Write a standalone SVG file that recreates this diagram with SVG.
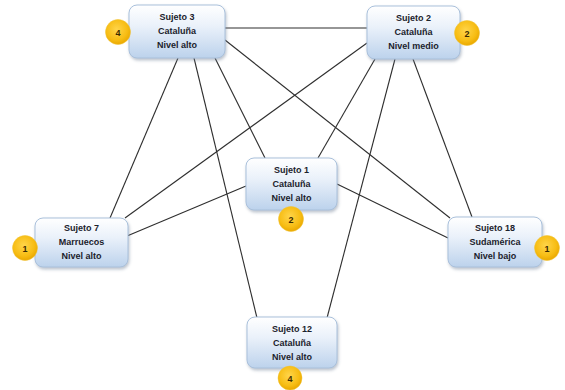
<svg xmlns="http://www.w3.org/2000/svg" width="565" height="390" viewBox="0 0 565 390">
<defs>
<linearGradient id="boxg" x1="0" y1="0" x2="0" y2="1">
<stop offset="0" stop-color="#ffffff"/>
<stop offset="0.4" stop-color="#eaf1fa"/>
<stop offset="1" stop-color="#bcd2ec"/>
</linearGradient>
<radialGradient id="badge" cx="0.45" cy="0.4" r="0.6">
<stop offset="0" stop-color="#ffd54a"/>
<stop offset="0.7" stop-color="#f7bd14"/>
<stop offset="1" stop-color="#eaa800"/>
</radialGradient>
<filter id="sh" x="-20%" y="-20%" width="140%" height="150%">
<feDropShadow dx="1" dy="2" stdDeviation="1.5" flood-color="#6b7d93" flood-opacity="0.45"/>
</filter>
</defs>
<style>
.box{fill:url(#boxg);stroke:#a9c0db;stroke-width:1;filter:url(#sh)}
.t{font-family:"Liberation Sans",Arial,sans-serif;font-size:9px;font-weight:bold;fill:#1b222c;text-anchor:middle}
.b{fill:url(#badge);stroke:#f0c330;stroke-width:0.5}
.bn{font-family:"Liberation Sans",Arial,sans-serif;font-size:9px;font-weight:bold;fill:#3a2a00;text-anchor:middle}
.c line{stroke:#2e2e2e;stroke-width:1.1}
</style>
<rect width="565" height="390" fill="#ffffff"/>
<g id="connectors" class="c">
<line x1="225" y1="28" x2="367" y2="28"/>
<line x1="178" y1="58" x2="110" y2="218"/>
<line x1="194" y1="58" x2="257" y2="318"/>
<line x1="215" y1="58" x2="265" y2="158"/>
<line x1="225" y1="40" x2="450" y2="218"/>
<line x1="367" y1="43" x2="125" y2="218"/>
<line x1="375" y1="59" x2="318" y2="158"/>
<line x1="395" y1="59" x2="327" y2="318"/>
<line x1="413" y1="59" x2="472" y2="217"/>
<line x1="246" y1="186" x2="127" y2="236"/>
<line x1="337" y1="184" x2="448" y2="238"/>
</g>
<g id="s3">
<rect class="box" x="129" y="5" width="96" height="53" rx="8"/>
<text class="t" x="177" y="20">Sujeto 3</text>
<text class="t" x="177" y="34">Cataluña</text>
<text class="t" x="177" y="48">Nivel alto</text>
<circle class="b" cx="118" cy="32" r="12.5"/>
<text class="bn" x="118" y="35.5">4</text>
</g>
<g id="s2">
<rect class="box" x="367" y="6" width="93" height="53" rx="8"/>
<text class="t" x="413.5" y="21">Sujeto 2</text>
<text class="t" x="413.5" y="35">Cataluña</text>
<text class="t" x="413.5" y="49">Nivel medio</text>
<circle class="b" cx="467" cy="33" r="12.5"/>
<text class="bn" x="467" y="36.5">2</text>
</g>
<g id="s1">
<rect class="box" x="246" y="158" width="91" height="52" rx="8"/>
<text class="t" x="291.5" y="173">Sujeto 1</text>
<text class="t" x="291.5" y="187">Cataluña</text>
<text class="t" x="291.5" y="201">Nivel alto</text>
<circle class="b" cx="291" cy="219" r="12.5"/>
<text class="bn" x="291" y="222.5">2</text>
</g>
<g id="s7">
<rect class="box" x="35" y="218" width="93" height="49" rx="8"/>
<text class="t" x="81.5" y="231">Sujeto 7</text>
<text class="t" x="81.5" y="245">Marruecos</text>
<text class="t" x="81.5" y="259">Nivel alto</text>
<circle class="b" cx="25" cy="248" r="12.5"/>
<text class="bn" x="25" y="251.5">1</text>
</g>
<g id="s18">
<rect class="box" x="448" y="217" width="94" height="50" rx="8"/>
<text class="t" x="495" y="231">Sujeto 18</text>
<text class="t" x="495" y="245">Sudamérica</text>
<text class="t" x="495" y="259">Nivel bajo</text>
<circle class="b" cx="547" cy="248" r="12.5"/>
<text class="bn" x="547" y="251.5">1</text>
</g>
<g id="s12">
<rect class="box" x="247" y="317" width="90" height="51" rx="8"/>
<text class="t" x="292" y="332">Sujeto 12</text>
<text class="t" x="292" y="346">Cataluña</text>
<text class="t" x="292" y="360">Nivel alto</text>
<circle class="b" cx="290" cy="378" r="12"/>
<text class="bn" x="290" y="381.5">4</text>
</g>
</svg>
